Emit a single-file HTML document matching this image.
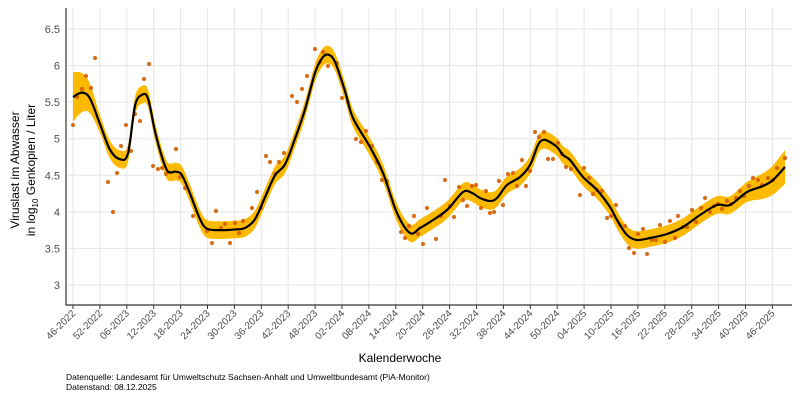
<!DOCTYPE html>
<html><head><meta charset="utf-8"><style>
body{margin:0;background:#fff}
svg{display:block;font-family:"Liberation Sans",sans-serif}
</style></head><body>
<svg id="s" width="800" height="400" viewBox="0 0 800 400"></svg>
<script>
const s=document.getElementById('s');
const Y=v=>285-(v-3)*73.14;
let h='';
for(let v=3;v<=6.51;v+=0.5){h+=`<line x1="66" x2="792" y1="${Y(v)}" y2="${Y(v)}" stroke="#e6e6e6" stroke-width="1"/>`;
 h+=`<text x="60" y="${Y(v)+4}" font-size="11" fill="#4d4d4d" text-anchor="end">${v%1===0?v:v.toFixed(1)}</text>`;}
const labs=["46-2022","52-2022","06-2023","12-2023","18-2023","24-2023","30-2023","36-2023","42-2023","48-2023","02-2024","08-2024","14-2024","20-2024","26-2024","32-2024","38-2024","44-2024","50-2024","04-2025","10-2025","16-2025","22-2025","28-2025","34-2025","40-2025","46-2025"];
labs.forEach((l,i)=>{const x=73+i*26.9;
 h+=`<line x1="${x}" x2="${x}" y1="8" y2="305" stroke="#e6e6e6"/>`;
 h+=`<line x1="${x}" x2="${x}" y1="305" y2="309" stroke="#333"/>`;
 h+=`<text transform="translate(${x+3},${314}) rotate(-45)" font-size="10" fill="#4d4d4d" text-anchor="end">${l}</text>`;});
const cv=[[73,5.57],[82,5.63],[90,5.55],[100,5.2],[110,4.85],[120,4.72],[128,4.8],[135,5.45],[142,5.6],[148,5.55],[155,5.1],[162,4.75],[168,4.55],[176,4.55],[182,4.5],[190,4.25],[200,3.9],[207,3.77],[220,3.75],[235,3.76],[245,3.78],[255,3.9],[265,4.2],[275,4.5],[285,4.65],[295,5.0],[305,5.4],[315,5.9],[322,6.1],[328,6.15],[335,6.05],[345,5.65]];
const mid=cv.map(p=>[p[0],Y(p[1])]).concat([[353,118],[370,147],[383,173],[397,213],[410,233],[420,228],[430,222],[447,210],[463,192],[472,193],[480,198],[490,201],[497,198],[507,185],[520,177],[530,165],[538,145],[543,140],[548,141],[557,147],[563,155],[570,160],[583,177],[597,190],[610,207],[617,220],[627,235],[637,240],[650,238],[667,234],[683,227],[700,215],[717,205],[730,205],[747,192],[763,186],[773,180],[785,167]]);
function hw(x){let w=0.12;if(x<100)w=0.12+(100-x)/27*0.22;if(x>740)w=0.12+(x-740)/45*0.11;return w*73.14;}
function cr(pts){let d=`M${pts[0][0]},${pts[0][1]}`;for(let i=0;i<pts.length-1;i++){const p0=pts[i-1]||pts[i],p1=pts[i],p2=pts[i+1],p3=pts[i+2]||p2;
 d+=` C${p1[0]+(p2[0]-p0[0])/6},${p1[1]+(p2[1]-p0[1])/6} ${p2[0]-(p3[0]-p1[0])/6},${p2[1]-(p3[1]-p1[1])/6} ${p2[0]},${p2[1]}`;}return d;}
const up=mid.map(p=>[p[0],p[1]-hw(p[0])]);
const lo=mid.map(p=>[p[0],p[1]+hw(p[0])]).reverse();
h+=`<path d="${cr(up)} L${lo[0][0]},${lo[0][1]} ${cr(lo).slice(1)} Z" fill="#fbb900"/>`;
const pts=[[73,125],[77,97],[82,89],[86,76],[91,88],[95,58],[108,182],[113,212],[117,173],[121,146],[126,125],[131,151],[135,114],[140,121],[144,79],[149,64],[153,166],[158,169],[162,168],[166,174],[176,149],[180,177],[185,188],[193,216],[207,231],[212,243],[216,211],[221,228],[225,224],[230,243],[235,223],[239,233],[243,221],[252,208],[257,192],[261,208],[266,156],[270,162],[275,174],[279,162],[284,153],[292,96],[297,102],[302,89],[307,76],[315,49],[320,62],[323,52],[328,66],[337,63],[342,98],[348,102],[356,139],[361,142],[366,131],[372,146],[377,162],[382,180],[387,181],[401,232],[405,238],[409,226],[414,216],[418,234],[423,244],[427,208],[436,239],[441,216],[445,180],[450,206],[454,217],[459,187],[463,200],[467,206],[472,186],[476,185],[481,208],[486,191],[490,213],[494,212],[499,181],[503,205],[508,174],[513,173],[517,186],[522,160],[526,186],[530,171],[535,132],[539,137],[544,132],[548,159],[553,159],[558,143],[562,154],[566,167],[571,169],[580,195],[584,168],[589,178],[593,194],[597,190],[602,191],[607,218],[611,216],[616,205],[620,225],[625,226],[629,248],[634,253],[638,234],[643,229],[647,254],[652,240],[656,240],[660,225],[665,242],[670,221],[675,238],[678,216],[683,227],[687,227],[692,210],[696,222],[701,208],[705,198],[710,212],[714,206],[718,204],[722,209],[727,201],[731,204],[736,198],[740,191],[744,196],[749,186],[753,178],[758,180],[762,185],[768,178],[773,180],[777,168],[785,158]];
pts.forEach(p=>h+=`<circle cx="${p[0]}" cy="${p[1]}" r="2.1" fill="#d55e00" opacity="0.9"/>`);
h+=`<path d="${cr(mid)}" fill="none" stroke="#000" stroke-width="2.2"/>`;
h+=`<line x1="66" x2="66" y1="8" y2="305.5" stroke="#333" stroke-width="1.2"/><line x1="65.5" x2="792" y1="305" y2="305" stroke="#333" stroke-width="1.2"/>`;
h+=`<text x="400" y="362" font-size="12" text-anchor="middle" fill="#000">Kalenderwoche</text>`;
h+=`<text transform="translate(19,170) rotate(-90)" font-size="12" text-anchor="middle">Viruslast im Abwasser</text>`;
h+=`<text transform="translate(35,170) rotate(-90)" font-size="12" text-anchor="middle">in  log<tspan font-size="8" dy="3">10</tspan><tspan dy="-3"> Genkopien / Liter</tspan></text>`;
h+=`<text x="66" y="380" font-size="8.5">Datenquelle: Landesamt für Umweltschutz Sachsen-Anhalt und Umweltbundesamt (PiA-Monitor)</text>`;
h+=`<text x="66" y="390" font-size="8.5">Datenstand: 08.12.2025</text>`;
s.innerHTML=h;
</script>
</body></html>
